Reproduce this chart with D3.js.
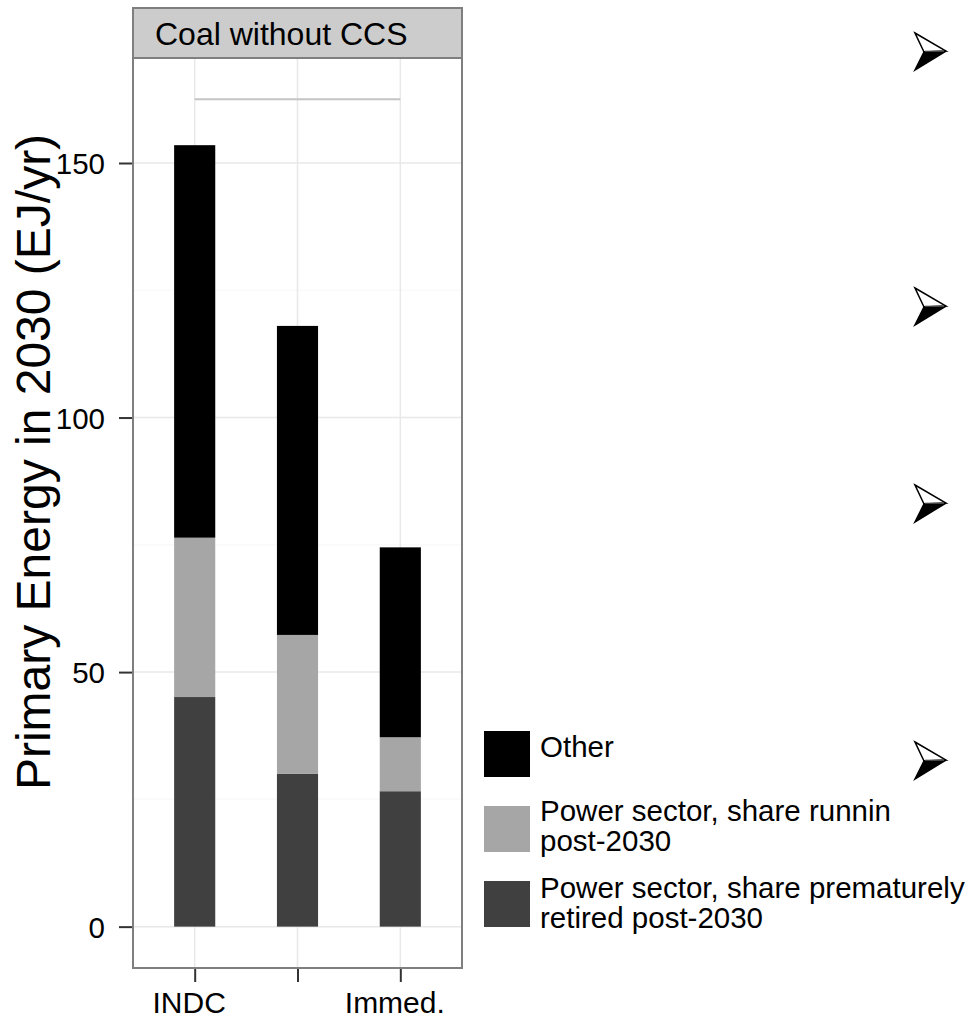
<!DOCTYPE html>
<html>
<head>
<meta charset="utf-8">
<script src="https://cdn.jsdelivr.net/npm/d3@7"></script>
<style>
  html, body { margin: 0; padding: 0; background: #ffffff; }
  svg { display: block; }
  text { font-family: "Liberation Sans", Arial, Helvetica, sans-serif; }
</style>
</head>
<body>
<svg id="chart" width="969" height="1021"></svg>
<script>
// ---- data ----
const scenarios = ["INDC", "Mid", "Immed."];
const tickLabels = ["INDC", "", "Immed."];
const retiredValues = [45.1, 30.0, 26.6];
const runningValues = [31.3, 27.3, 10.6];
const otherValues = [77.1, 60.7, 37.3];
const refLineValue = 162.5;
const refLineScenarios = ["INDC", "Immed."];
const yTicks = [0, 50, 100, 150];
const yMinorTicks = [25, 75, 125];
const seriesKeys = ["retired", "running", "other"];
const seriesColors = ["#404040", "#a6a6a6", "#000000"];
const legendKeys = ["other", "running", "retired"];
const legendLabels = [["Other"], ["Power sector, share runnin", "post-2030"], ["Power sector, share prematurely", "retired post-2030"]];
const stripTitle = "Coal without CCS";
const yTitle = "Primary Energy in 2030 (EJ/yr)";
const bulletTops = [33, 288, 485, 742];

// ---- layout ----
const svg = d3.select("#chart");
const panel = { left: 133, right: 462, top: 58, bottom: 968 };
const strip = { top: 8, bottom: 58 };

const table = scenarios.map((s, i) => ({
  scenario: s, retired: retiredValues[i], running: runningValues[i], other: otherValues[i]
}));
const stacked = d3.stack().keys(seriesKeys)(table);

const yMax = refLineValue;
const pad = yMax * 0.05;
const y = d3.scaleLinear().domain([-pad, yMax + pad]).range([panel.bottom, panel.top]);
const x = d3.scalePoint().domain(scenarios).range([panel.left, panel.right]).padding(0.6);
const barW = x.step() * 0.4;
const color = d3.scaleOrdinal().domain(seriesKeys).range(seriesColors);

svg.append("rect").attr("width", 969).attr("height", 1021).attr("fill", "#fff");

// grid
const g = svg.append("g");
g.selectAll(".minor").data(yMinorTicks).join("line")
  .attr("x1", panel.left).attr("x2", panel.right)
  .attr("y1", d => y(d)).attr("y2", d => y(d))
  .attr("stroke", "#fafafa").attr("stroke-width", 1.5);
g.selectAll(".major").data(yTicks).join("line")
  .attr("x1", panel.left).attr("x2", panel.right)
  .attr("y1", d => y(d)).attr("y2", d => y(d))
  .attr("stroke", "#e8e8e8").attr("stroke-width", 1.5);
g.selectAll(".vmajor").data(scenarios).join("line")
  .attr("x1", d => x(d)).attr("x2", d => x(d))
  .attr("y1", panel.top).attr("y2", panel.bottom)
  .attr("stroke", "#e8e8e8").attr("stroke-width", 1.5);

// bars
svg.append("g").selectAll("g").data(stacked).join("g")
  .attr("fill", d => color(d.key))
  .selectAll("rect").data(d => d).join("rect")
  .attr("x", d => x(d.data.scenario) - barW / 2)
  .attr("width", barW)
  .attr("y", d => y(d[1]))
  .attr("height", d => y(d[0]) - y(d[1]));

// reference line
svg.append("line")
  .attr("x1", x(refLineScenarios[0])).attr("x2", x(refLineScenarios[1]))
  .attr("y1", y(refLineValue)).attr("y2", y(refLineValue))
  .attr("stroke", "#c4c4c4").attr("stroke-width", 2);

// panel border
svg.append("rect")
  .attr("x", panel.left).attr("y", panel.top)
  .attr("width", panel.right - panel.left).attr("height", panel.bottom - panel.top)
  .attr("fill", "none").attr("stroke", "#7f7f7f").attr("stroke-width", 2);

// strip
svg.append("rect")
  .attr("x", panel.left).attr("y", strip.top)
  .attr("width", panel.right - panel.left).attr("height", strip.bottom - strip.top)
  .attr("fill", "#cccccc").attr("stroke", "#7f7f7f").attr("stroke-width", 2);
svg.append("text").attr("x", 155).attr("y", 45)
  .attr("font-size", 32).attr("fill", "#000").text(stripTitle);

// y axis
const yAxis = d3.axisLeft(y).tickValues(yTicks).tickSize(13).tickPadding(14).tickFormat(d3.format("d"));
const ya = svg.append("g").attr("transform", `translate(${panel.left - 1},0)`).call(yAxis);
ya.select(".domain").remove();
ya.selectAll(".tick line").attr("stroke", "#333").attr("stroke-width", 2);
ya.selectAll(".tick text").attr("font-size", 29.5).attr("fill", "#000")
  .attr("font-family", '"Liberation Sans", Arial, sans-serif').attr("dy", "0.36em");

// x axis
const xAxis = d3.axisBottom(x).tickSize(13).tickPadding(10).tickFormat((d, i) => tickLabels[i]);
const xa = svg.append("g").attr("transform", `translate(0,${panel.bottom + 1})`).call(xAxis);
xa.select(".domain").remove();
xa.selectAll(".tick line").attr("stroke", "#333").attr("stroke-width", 2);
xa.selectAll(".tick text").attr("font-size", 30).attr("fill", "#000").attr("dx", -6)
  .attr("font-family", '"Liberation Sans", Arial, sans-serif');

// y title
svg.append("text")
  .attr("transform", "translate(50,462) rotate(-90)")
  .attr("text-anchor", "middle").attr("font-size", 48).attr("fill", "#000")
  .text(yTitle);

// legend
const leg = svg.append("g");
const legTops = [731, 806, 881];
const legBaselines = [757, 821, 898];
legendKeys.forEach((k, i) => {
  leg.append("rect").attr("x", 484).attr("y", legTops[i]).attr("width", 46).attr("height", 46)
    .attr("fill", color(k));
  legendLabels[i].forEach((line, j) => {
    leg.append("text").attr("x", 540).attr("y", legBaselines[i] + j * 30)
      .attr("font-size", 29.5).attr("fill", "#000").text(line);
  });
});

// bullets (arrowheads)
const bul = svg.append("g");
bulletTops.forEach(t => {
  const L = 915, R = 946, N = 924;
  const top = t, bot = t + 37, mid = t + 18, notchY = t + 19;
  bul.append("path").attr("d", `M${L},${top} L${R},${mid} L${N},${notchY} Z`)
    .attr("fill", "#fff").attr("stroke", "#000").attr("stroke-width", 1.5).attr("stroke-linejoin", "miter");
  bul.append("path").attr("d", `M${N},${notchY} L${R},${mid} L${L},${bot} Z`)
    .attr("fill", "#000").attr("stroke", "#000").attr("stroke-width", 1.5);
  bul.append("line").attr("x1", N + 1).attr("y1", notchY - 1).attr("x2", R - 2).attr("y2", mid)
    .attr("stroke", "#888").attr("stroke-width", 1);
});
</script>
</body>
</html>
